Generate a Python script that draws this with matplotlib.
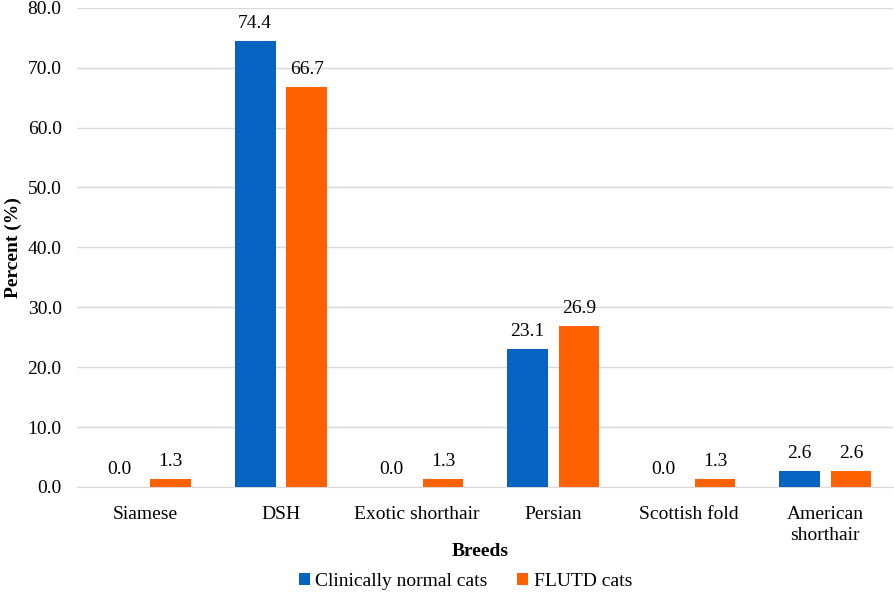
import matplotlib
matplotlib.use("Agg")
import matplotlib.pyplot as plt
import numpy as np

categories = ["Siamese", "DSH", "Exotic shorthair", "Persian", "Scottish fold", "American\nshorthair"]
normal = [0.0, 74.4, 0.0, 23.1, 0.0, 2.6]
flutd = [1.3, 66.7, 1.3, 26.9, 1.3, 2.6]
series_names = ["Clinically normal cats", "FLUTD cats"]
yticks = [0, 10, 20, 30, 40, 50, 60, 70, 80]

plt.rcParams['font.family'] = ['Liberation Serif', 'DejaVu Serif']
FS = 14
fig = plt.figure(figsize=(8.95, 5.96), dpi=100)
ax = fig.add_axes([0.086, 0.183, 0.912, 0.804])

x = np.arange(len(categories))
w = 0.30
off = 0.19
blue = '#0563C1'
orange = '#FF6000'
b1 = ax.bar(x - off, normal, w, color=blue, label=series_names[0], zorder=3)
b2 = ax.bar(x + off, flutd, w, color=orange, label=series_names[1], zorder=3)
for bars, vals in ((b1, normal), (b2, flutd)):
    for r, v in zip(bars, vals):
        ax.text(r.get_x() + r.get_width() / 2, v + 1.5, f"{v:.1f}", ha='center', va='bottom', fontsize=FS)

ax.set_ylim(0, 80)
ax.set_xlim(-0.5, len(categories) - 0.5)
ax.set_yticks(yticks)
ax.set_yticklabels([f"{t:.1f}" for t in yticks], fontsize=FS)
ax.set_xticks(x)
ax.set_xticklabels(categories, fontsize=FS, linespacing=1.3)
ax.tick_params(axis='both', length=0)
ax.tick_params(axis='y', pad=11)
ax.tick_params(axis='x', pad=14)
ax.grid(axis='y', color='#D9D9D9', linewidth=1, zorder=0)
for s in ['top', 'right', 'left']:
    ax.spines[s].set_visible(False)
ax.spines['bottom'].set_color('#D9D9D9')
fig.text(0.0145, 0.585, "Percent (%)", fontsize=FS, fontweight='bold', rotation=90, ha='center', va='center')
fig.text(0.537, 0.075, "Breeds", fontsize=FS, fontweight='bold', ha='center', va='center')
fig.legend(loc='center', bbox_to_anchor=(0.52, 0.025), ncol=2, frameon=False, fontsize=FS,
           handlelength=0.55, handleheight=0.55, handletextpad=0.3, columnspacing=1.5,
           borderpad=0, borderaxespad=0)
fig.savefig("out.png", dpi=100)
